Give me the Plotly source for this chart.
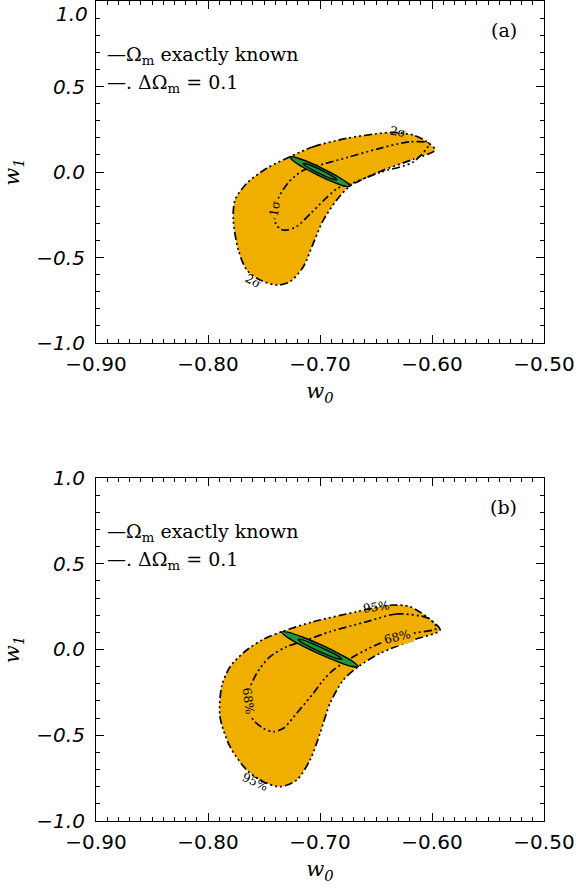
import plotly.graph_objects as go

# ---------------- data ----------------
# Panel (a): 2-sigma contour (Delta Omega_m = 0.1)
a_outer_w0 = [-0.7268, -0.7060, -0.6761, -0.6464, -0.6345, -0.6167, -0.6047, -0.5973,
              -0.6167, -0.6464, -0.6732, -0.6851, -0.6970, -0.7060, -0.7149, -0.7268,
              -0.7386, -0.7536, -0.7654, -0.7729, -0.7774, -0.7759, -0.7654, -0.7476, -0.7268]
a_outer_w1 = [0.0895, 0.148, 0.197, 0.226, 0.232, 0.216, 0.177, 0.129,
              0.075, 0.003, -0.082, -0.164, -0.281, -0.417, -0.554, -0.6415,
              -0.661, -0.6316, -0.573, -0.456, -0.281, -0.164, -0.066, 0.0216, 0.0895]
# Panel (a): 1-sigma contour
a_inner_w0 = [-0.6026, -0.6205, -0.6473, -0.6741, -0.6949, -0.7143, -0.7277, -0.7366,
              -0.7405, -0.7396, -0.7351, -0.7292, -0.7203, -0.7083, -0.6964, -0.6845,
              -0.6732, -0.6464, -0.6167, -0.6026]
a_inner_w1 = [0.167, 0.176, 0.137, 0.088, 0.050, 0.012, -0.057, -0.145,
              -0.222, -0.300, -0.335, -0.339, -0.316, -0.242, -0.164, -0.096,
              -0.070, -0.002, 0.059, 0.167]
# Panel (a): Omega_m exactly known (2-sigma and 1-sigma ellipses)
a_ell2_w0 = [-0.6732, -0.6760, -0.6852, -0.6984, -0.7120, -0.7224, -0.7268, -0.7240,
             -0.7148, -0.7016, -0.6880, -0.6776, -0.6732]
a_ell2_w1 = [-0.0835, -0.0615, -0.0225, 0.0231, 0.0630, 0.0866, 0.0875, 0.0655,
             0.0265, -0.0191, -0.0590, -0.0826, -0.0835]
a_ell1_w0 = [-0.6850, -0.6866, -0.6918, -0.6992, -0.7068, -0.7126, -0.7150, -0.7134,
             -0.7082, -0.7008, -0.6932, -0.6874, -0.6850]
a_ell1_w1 = [-0.0459, -0.0342, -0.0128, 0.0126, 0.0351, 0.0488, 0.0499, 0.0382,
             0.0168, -0.0086, -0.0311, -0.0448, -0.0459]

# Panel (b): 95% contour
b_outer_w0 = [-0.7342, -0.7060, -0.6672, -0.6464, -0.6345, -0.6196, -0.6047, -0.5928,
              -0.6167, -0.6464, -0.6658, -0.6792, -0.6910, -0.7000, -0.7089, -0.7208,
              -0.7357, -0.7506, -0.7654, -0.7803, -0.7893, -0.7878, -0.7803, -0.7654,
              -0.7506, -0.7342]
b_outer_w1 = [0.1038, 0.162, 0.2204, 0.2496, 0.2595, 0.2496, 0.1912, 0.1137,
              0.0554, -0.0222, -0.1003, -0.1779, -0.3137, -0.4887, -0.6443, -0.761,
              -0.800, -0.771, -0.7027, -0.5668, -0.3919, -0.2169, -0.1003, -0.0029,
              0.0595, 0.1038]
# Panel (b): 68% contour
b_inner_w0 = [-0.6033, -0.6315, -0.6583, -0.6910, -0.7118, -0.7297, -0.7446, -0.7565,
              -0.7640, -0.7640, -0.7595, -0.7506, -0.7417, -0.7327, -0.7208, -0.7060,
              -0.6970, -0.6881, -0.6702, -0.6464, -0.6167, -0.5958, -0.6033]
b_inner_w1 = [0.1819, 0.2070, 0.1620, 0.1038, 0.0554, 0.0163, -0.042, -0.1388,
              -0.2554, -0.3528, -0.4111, -0.4595, -0.4793, -0.4595, -0.372, -0.2554,
              -0.1779, -0.1196, -0.042, 0.0361, 0.0944, 0.1236, 0.1819]
# Panel (b): Omega_m exactly known ellipses
b_ell2_w0 = [-0.6658, -0.6695, -0.6815, -0.6983, -0.7157, -0.7288, -0.7342, -0.7305,
             -0.7186, -0.7017, -0.6844, -0.6712, -0.6658]
b_ell2_w1 = [-0.1010, -0.0754, -0.0293, 0.0249, 0.0727, 0.1013, 0.1030, 0.0774,
             0.0313, -0.0229, -0.0707, -0.0993, -0.1010]
b_ell1_w0 = [-0.6805, -0.6827, -0.6895, -0.6992, -0.7090, -0.7165, -0.7195, -0.7173,
             -0.7105, -0.7008, -0.6910, -0.6835, -0.6805]
b_ell1_w1 = [-0.0571, -0.0433, -0.0177, 0.0130, 0.0404, 0.0573, 0.0591, 0.0453,
             0.0197, -0.0110, -0.0384, -0.0553, -0.0571]

x_tickvals = [-0.90, -0.80, -0.70, -0.60, -0.50]
x_ticktext = ["\u22120.90", "\u22120.80", "\u22120.70", "\u22120.60", "\u22120.50"]
y_tickvals = [1.0, 0.5, 0.0, -0.5, -1.0]
y_ticktext = ["1.0", "0.5", "0.0", "\u22120.5", "\u22121.0"]

# ---------------- styling ----------------
ORANGE = "#F0AE00"
GREEN = "#1A9A3A"
DASH = "8px,3px,2px,3px,2px,3px,2px,3px"
SERIF = "DejaVu Serif"
SANS = "DejaVu Sans"

fig = go.Figure()

panels = [
    ("x", "y", a_outer_w0, a_outer_w1, a_inner_w0, a_inner_w1,
     a_ell2_w0, a_ell2_w1, a_ell1_w0, a_ell1_w1),
    ("x2", "y2", b_outer_w0, b_outer_w1, b_inner_w0, b_inner_w1,
     b_ell2_w0, b_ell2_w1, b_ell1_w0, b_ell1_w1),
]
for xa, ya, ow0, ow1, iw0, iw1, e2x, e2y, e1x, e1y in panels:
    fig.add_trace(go.Scatter(x=ow0, y=ow1, xaxis=xa, yaxis=ya, mode="lines",
                             fill="toself", fillcolor=ORANGE,
                             line=dict(color="black", width=1.7, dash=DASH, shape="spline", smoothing=0.8),
                             hoverinfo="skip", showlegend=False))
    fig.add_trace(go.Scatter(x=iw0, y=iw1, xaxis=xa, yaxis=ya, mode="lines",
                             line=dict(color="black", width=1.7, dash=DASH, shape="spline", smoothing=0.8),
                             hoverinfo="skip", showlegend=False))
    fig.add_trace(go.Scatter(x=e2x, y=e2y, xaxis=xa, yaxis=ya, mode="lines",
                             fill="toself", fillcolor=GREEN,
                             line=dict(color="black", width=1.4, shape="spline"),
                             hoverinfo="skip", showlegend=False))
    fig.add_trace(go.Scatter(x=e1x, y=e1y, xaxis=xa, yaxis=ya, mode="lines",
                             line=dict(color="black", width=1.4, shape="spline"),
                             hoverinfo="skip", showlegend=False))

xcommon = dict(range=[-0.90, -0.50], tickvals=x_tickvals, ticktext=x_ticktext,
               ticks="inside", ticklen=8, tickwidth=1, tickcolor="black",
               showline=True, linecolor="black", linewidth=1.2, mirror="ticks",
               showgrid=False, zeroline=False, automargin=False,
               tickfont=dict(family=SANS, size=20, color="black"),
               minor=dict(dtick=0.01, ticks="inside", ticklen=4, tickcolor="black", showgrid=False),
               ticklabelstandoff=3)
ycommon = dict(range=[-1.0, 1.0], tickvals=y_tickvals,
               ticks="inside", ticklen=8, tickwidth=1, tickcolor="black",
               showline=True, linecolor="black", linewidth=1.2, mirror="ticks",
               showgrid=False, zeroline=False, automargin=False,
               tickfont=dict(family=SANS, size=20, color="black", style="italic"),
               minor=dict(dtick=0.1, ticks="inside", ticklen=4, tickcolor="black", showgrid=False),
               ticklabelstandoff=6, ticklabeloverflow="allow")

xtitle = dict(text="<i>w</i><sub><i>0</i></sub>", font=dict(family=SERIF, size=21, color="black"), standoff=8)
ytitle = dict(text="<i>w</i><sub><i>1</i></sub>", font=dict(family=SERIF, size=21, color="black"), standoff=10)

# top label of panel (a) is drawn as an annotation so it sits inside the page like in the original
ytext_a = [""] + y_ticktext[1:]

fig.update_layout(
    width=577, height=888,
    margin=dict(l=96, r=33, t=1, b=67),
    paper_bgcolor="white", plot_bgcolor="white",
    xaxis=dict(domain=[0, 1], anchor="y", title=xtitle, **xcommon),
    yaxis=dict(domain=[0.5829, 1.0], anchor="x", title=ytitle, ticktext=ytext_a, **ycommon),
    xaxis2=dict(domain=[0, 1], anchor="y2", title=xtitle, **xcommon),
    yaxis2=dict(domain=[0, 0.4183], anchor="x2", title=ytitle, ticktext=y_ticktext, **ycommon),
)

ann = [dict(xref="x domain", yref="y domain", x=0, y=1, xanchor="right", yanchor="top",
            xshift=-6, yshift=1, text=y_ticktext[0], showarrow=False,
            font=dict(family=SANS, size=20, color="black", style="italic"))]
for xr, yr, tag in [("x domain", "y domain", "(a)"), ("x2 domain", "y2 domain", "(b)")]:
    ann.append(dict(xref=xr, yref=yr, x=0.91, y=0.915, xanchor="center", yanchor="middle",
                    text=tag, showarrow=False,
                    font=dict(family=SERIF, size=19, color="black")))
    ann.append(dict(xref=xr, yref=yr, x=0.02, y=0.84, xanchor="left", yanchor="middle", showarrow=False,
                    text="\u2014\u03A9<sub>m</sub> exactly known",
                    font=dict(family=SERIF, size=19, color="black")))
    ann.append(dict(xref=xr, yref=yr, x=0.02, y=0.76, xanchor="left", yanchor="middle", showarrow=False,
                    text="\u2014. \u0394\u03A9<sub>m</sub> = 0.1",
                    font=dict(family=SERIF, size=19, color="black")))

lbl = dict(family=SERIF, size=12, color="black")
# contour labels panel (a)
ann += [
    dict(xref="x", yref="y", x=-0.630, y=0.232, text="2\u03C3", textangle=10, showarrow=False, font=lbl),
    dict(xref="x", yref="y", x=-0.760, y=-0.640, text="2\u03C3", textangle=30, showarrow=False, font=lbl),
    dict(xref="x", yref="y", x=-0.7405, y=-0.215, text="1\u03C3", textangle=-80, showarrow=False, font=lbl,
         bgcolor=ORANGE),
]
# contour labels panel (b)
ann += [
    dict(xref="x2", yref="y2", x=-0.650, y=0.250, text="95%", textangle=-8, showarrow=False, font=lbl),
    dict(xref="x2", yref="y2", x=-0.631, y=0.073, text="68%", textangle=-14, showarrow=False, font=lbl,
         bgcolor=ORANGE),
    dict(xref="x2", yref="y2", x=-0.764, y=-0.30, text="68%", textangle=82, showarrow=False, font=lbl,
         bgcolor=ORANGE),
    dict(xref="x2", yref="y2", x=-0.758, y=-0.770, text="95%", textangle=25, showarrow=False, font=lbl),
]
fig.update_layout(annotations=ann)

fig.write_html("out.html", config={"displayModeBar": False},
               post_script="document.body.style.margin='0';")
